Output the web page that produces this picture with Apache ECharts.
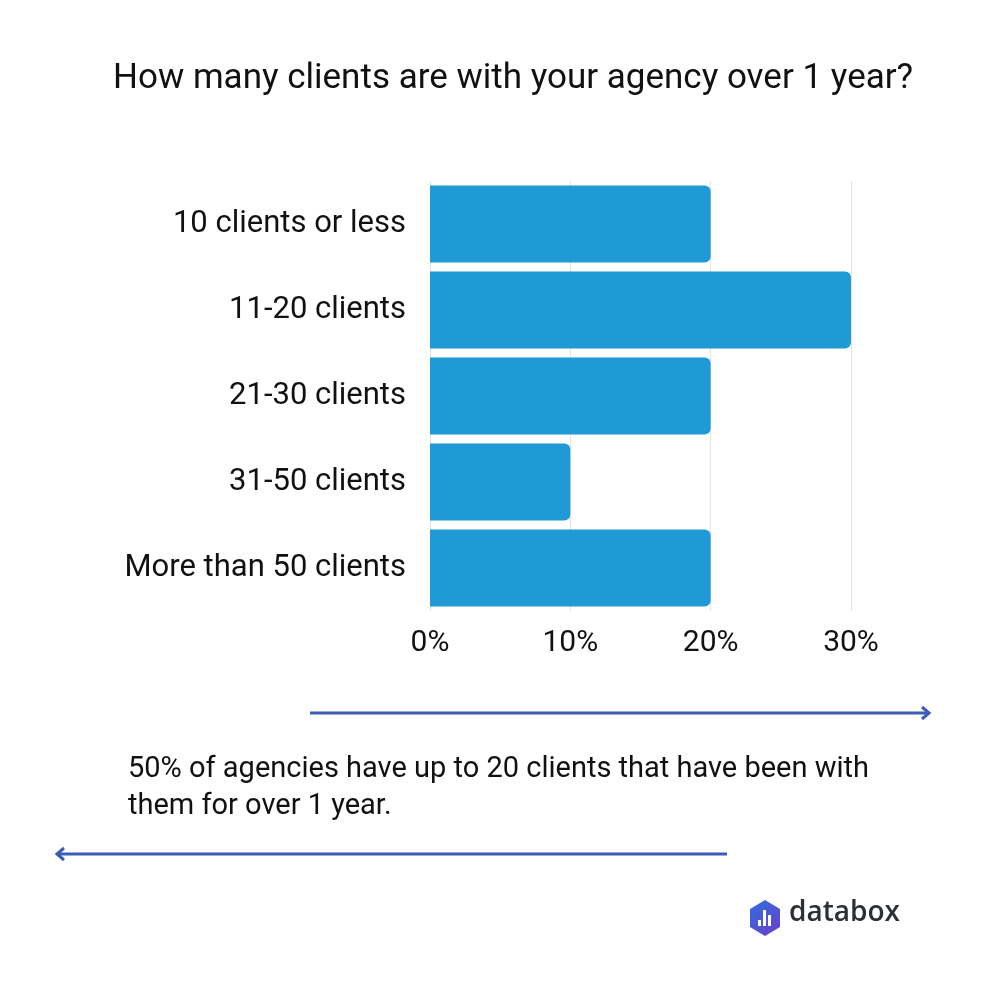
<!DOCTYPE html>
<html>
<head>
<meta charset="utf-8">
<title>Clients over 1 year</title>
<script src="https://cdn.jsdelivr.net/npm/echarts@6/dist/echarts.min.js"></script>
<style>
  html, body { margin: 0; padding: 0; background: #fff; }
  #main { width: 1000px; height: 1000px; }
</style>
</head>
<body>
<div id="main"></div>
<script>
// data
var categories = ['10 clients or less', '11-20 clients', '21-30 clients', '31-50 clients', 'More than 50 clients'];
var shares = [20, 30, 20, 10, 20];
var tickLabels = ['0%', '10%', '20%', '30%'];

var chart = echarts.init(document.getElementById('main'));
var arrowBlue = '#3d5cb4';

var option = {
  backgroundColor: '#ffffff',
  textStyle: { fontFamily: 'Roboto' },
  title: {
    text: 'How many clients are with your agency over 1 year?',
    left: 108,
    top: 57,
    textStyle: { fontFamily: 'Roboto', fontSize: 35, fontWeight: 'normal', color: '#111' }
  },
  grid: { left: 430, right: 149, top: 181, bottom: 389, containLabel: false },
  xAxis: {
    type: 'value',
    min: 0,
    max: 30,
    interval: 10,
    axisLine: { show: false },
    axisTick: { show: false },
    splitLine: { show: true, lineStyle: { color: '#e3e3e3', width: 1 } },
    axisLabel: {
      margin: 17,
      fontSize: 30,
      color: '#111',
      formatter: function (v) { return tickLabels[Math.round(v / 10)]; }
    }
  },
  yAxis: {
    type: 'category',
    inverse: true,
    data: categories,
    axisLine: { show: false },
    axisTick: { show: false },
    axisLabel: { margin: 24, fontSize: 31, color: '#111' }
  },
  series: [{
    type: 'bar',
    data: shares,
    barCategoryGap: '10.5%',
    itemStyle: { color: '#1f9ad6', borderRadius: [0, 6, 6, 0] }
  }],
  graphic: [
    // upper arrow
    { type: 'line', shape: { x1: 310, y1: 713, x2: 928, y2: 713 }, style: { stroke: arrowBlue, lineWidth: 3 } },
    { type: 'polyline', shape: { points: [[922, 707], [929, 713], [922, 719]] }, style: { stroke: arrowBlue, lineWidth: 3, fill: null } },
    // note text
    { type: 'text', left: 128, top: 755, style: { text: '50% of agencies have up to 20 clients that have been with', fontFamily: 'Roboto', fontSize: 29, fill: '#111' } },
    { type: 'text', left: 128, top: 792, style: { text: 'them for over 1 year.', fontFamily: 'Roboto', fontSize: 29, fill: '#111' } },
    // lower arrow
    { type: 'line', shape: { x1: 58, y1: 854, x2: 727, y2: 854 }, style: { stroke: arrowBlue, lineWidth: 3 } },
    { type: 'polyline', shape: { points: [[64, 848], [57, 854], [64, 860]] }, style: { stroke: arrowBlue, lineWidth: 3, fill: null } },
    // databox logo
    {
      type: 'polygon',
      shape: { points: [[765, 900], [780, 909], [780, 927], [765, 936], [750, 927], [750, 909]] },
      style: {
        fill: new echarts.graphic.LinearGradient(0, 0, 1, 1, [
          { offset: 0, color: '#2f6fe0' },
          { offset: 1, color: '#6a3fc8' }
        ])
      }
    },
    { type: 'rect', shape: { x: 758, y: 920, width: 3, height: 6 }, style: { fill: '#fff' } },
    { type: 'rect', shape: { x: 763, y: 910, width: 3, height: 16 }, style: { fill: '#fff' } },
    { type: 'rect', shape: { x: 768, y: 915, width: 3, height: 11 }, style: { fill: '#fff' } },
    { type: 'text', left: 789, top: 899, style: { text: 'databox', fontFamily: 'Open Sans', fontSize: 28, fontWeight: 600, fill: '#2b2f36' } }
  ]
};

chart.setOption(option);
</script>
</body>
</html>
